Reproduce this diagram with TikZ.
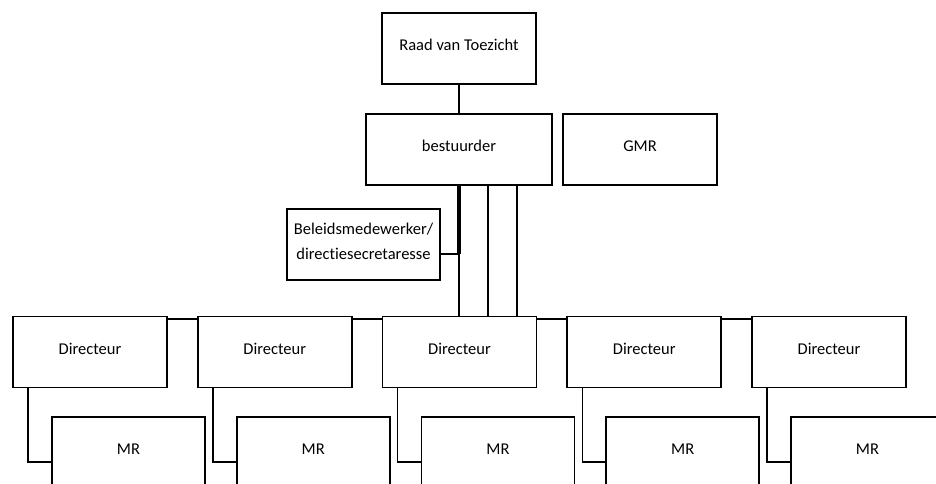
\documentclass[tikz,border=0pt]{standalone}
\usepackage{fontspec}
\setmainfont{Carlito}[Ligatures=NoCommon]
\usetikzlibrary{positioning,calc}

\begin{document}
\begin{tikzpicture}[x=1pt,y=-1pt,
  box/.style={draw,line width=1.6pt,minimum width=154pt,minimum height=71pt,inner sep=2pt,text depth=7pt,font=\fontsize{16.5}{25}\selectfont},
  mrbox/.style={box,minimum width=153pt,minimum height=90pt,text height=10pt,text depth=26pt},
  conn/.style={line width=1.5pt}]
\useasboundingbox (0,0) rectangle (936,483);
\clip (0,0) rectangle (936,483);

% Top level
\node[box] (rvt) at (459,48.5) {Raad van Toezicht};
\node[box,minimum width=186pt] (best) at (459,149.5) {bestuurder};
\node[box] (gmr) at (640,149.5) {GMR};
\node[box,minimum width=153pt,align=center] (beleid) at (363.5,244.5) {Beleidsmedewerker/\\directiesecretaresse};
\draw[conn] (rvt) -- (best);

% Directeuren met hun MR
\foreach \i in {1,...,5} {
    \node[box] (d\i) at ({90+184.75*(\i-1)},352) {Directeur};
    \node[mrbox] (m\i) at ({128.5+184.75*(\i-1)},462) {MR};
    \draw[conn] ([xshift=16pt]d\i.south west) |- (m\i.west);
}
\foreach \i in {1,...,4} {
    \pgfmathtruncatemacro\j{\i+1}
    \draw[line width=2.2pt] ([yshift=-3pt]d\i.north east) -- ([yshift=-3pt]d\j.north west);
}

% bestuurder naar directeur
\coordinate (knik) at (best.south |- 0,254);
\draw[line width=4pt] (best.south) -- (knik);
\draw[conn] (beleid.east |- knik) -- (knik);
\draw[conn] (best.south) -- (best.south |- d3.north);
\draw[conn] ([xshift=29pt]best.south) -- ([xshift=29pt]best.south |- d3.north);
\draw[conn] ([xshift=58pt]best.south) -- ([xshift=58pt]best.south |- d3.north);
\end{tikzpicture}
\end{document}
